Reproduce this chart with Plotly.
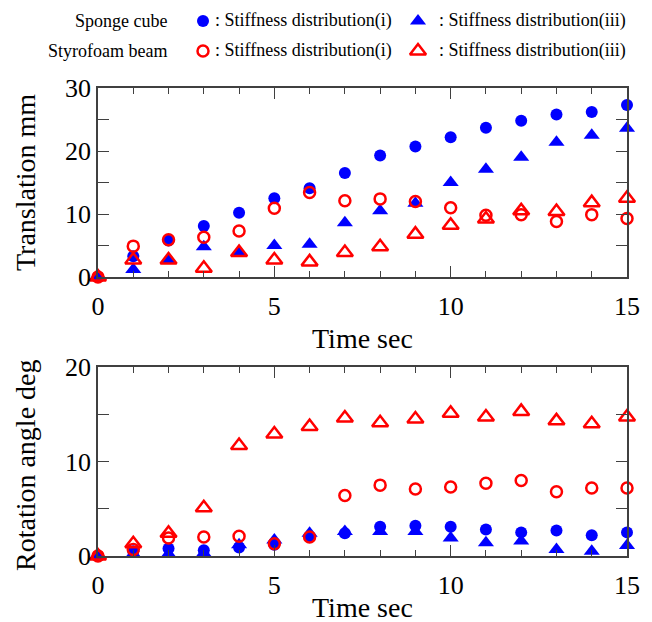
import plotly.graph_objects as go

# ---------------- data ----------------
time_s = list(range(16))

trans_sponge_i = [0, 3.3, 5.8, 8.1, 10.2, 12.5, 14.1, 16.5, 19.3, 20.7, 22.2, 23.7, 24.8, 25.8, 26.2, 27.3]
trans_sponge_iii = [0, 1.2, 2.6, 4.8, 3.9, 5.0, 5.2, 8.6, 10.5, 11.7, 15.0, 17.1, 19.0, 21.4, 22.5, 23.6]
trans_styro_i = [0, 4.9, 5.9, 6.3, 7.3, 10.9, 13.4, 12.1, 12.4, 12.0, 11.0, 9.8, 9.9, 8.8, 9.9, 9.3]
trans_styro_iii = [0, 2.7, 2.7, 1.4, 3.9, 2.7, 2.4, 3.9, 4.8, 6.8, 8.2, 9.2, 10.5, 10.4, 11.8, 12.5]

rot_sponge_i = [0, 0.5, 0.8, 0.6, 0.9, 1.2, 2.0, 2.4, 3.1, 3.2, 3.1, 2.8, 2.5, 2.7, 2.2, 2.5]
rot_sponge_iii = [0, 0.2, 0.2, 0.3, 1.2, 1.7, 2.4, 2.6, 2.6, 2.6, 1.9, 1.4, 1.6, 0.7, 0.5, 1.1]
rot_styro_i = [0, 0.7, 1.9, 2.0, 2.1, 1.3, 2.0, 6.4, 7.5, 7.1, 7.3, 7.7, 8.0, 6.8, 7.2, 7.2]
rot_styro_iii = [0, 1.3, 2.4, 5.1, 11.7, 12.9, 13.7, 14.6, 14.1, 14.5, 15.1, 14.7, 15.3, 14.3, 14.0, 14.7]

x_ticks = [0, 5, 10, 15]
top_y_ticks = [0, 10, 20, 30]
bot_y_ticks = [0, 10, 20]

legend_rows = ["Sponge cube", "Styrofoam beam"]
legend_items = [": Stiffness distribution(i)", ": Stiffness distribution(iii)"]

# ---------------- style ----------------
W, H = 652, 622
BLUE = "#0000FF"
RED = "#FF0000"
AXC = "#404040"
FONT = "Liberation Serif"

def px_x(p):
    return p / W

def px_y(p):
    return 1 - p / H

fig = go.Figure()

def add_series(x, y, xa, ya, color, symbol, filled):
    if filled:
        marker = dict(color=color, symbol=symbol, size=12 if symbol == "circle" else 14,
                      line=dict(width=0))
    else:
        marker = dict(color=color, symbol=symbol + "-open", size=11 if symbol == "circle" else 14,
                      line=dict(width=2.5, color=color))
    fig.add_trace(go.Scatter(x=x, y=y, mode="markers", marker=marker, xaxis=xa, yaxis=ya,
                             cliponaxis=False, showlegend=False, hoverinfo="skip"))

# top panel
add_series(time_s, trans_sponge_i, "x", "y", BLUE, "circle", True)
add_series(time_s, trans_sponge_iii, "x", "y", BLUE, "triangle-up", True)
add_series(time_s, trans_styro_i, "x", "y", RED, "circle", False)
add_series(time_s, trans_styro_iii, "x", "y", RED, "triangle-up", False)
# bottom panel
add_series(time_s, rot_sponge_iii, "x2", "y2", BLUE, "triangle-up", True)
add_series(time_s, rot_sponge_i, "x2", "y2", BLUE, "circle", True)
add_series(time_s, rot_styro_i, "x2", "y2", RED, "circle", False)
add_series(time_s, rot_styro_iii, "x2", "y2", RED, "triangle-up", False)

# legend glyphs on a hidden pixel-space axis
leg_marker_x = [203, 418]
leg_row_y = [21, 51]
leg_colors = [BLUE, RED]
leg_filled = [True, False]
for r in range(2):
    for c, sym in enumerate(["circle", "triangle-up"]):
        add_series([leg_marker_x[c]], [leg_row_y[r]], "x3", "y3", leg_colors[r], sym, leg_filled[r])

common_x = dict(range=[0, 15], showgrid=False, zeroline=False, showline=True, linecolor=AXC,
                linewidth=1.5, mirror="ticks", ticks="inside", ticklen=11, tickwidth=1.2,
                tickcolor=AXC, tickvals=x_ticks, ticktext=[str(v) for v in x_ticks],
                tickfont=dict(family=FONT, size=26, color="black"), ticklabelstandoff=5,
                minor=dict(dtick=1, ticks="inside", ticklen=6, tickwidth=1.2, tickcolor=AXC),
                domain=[px_x(98), px_x(627)])
common_y = dict(showgrid=False, zeroline=False, showline=True, linecolor=AXC,
                linewidth=1.5, mirror="ticks", ticks="inside", ticklen=11, tickwidth=1.2,
                tickcolor=AXC, tickfont=dict(family=FONT, size=26, color="black"),
                ticklabelstandoff=0,
                minor=dict(dtick=5, ticks="inside", ticklen=11, tickwidth=1.2, tickcolor=AXC))

fig.update_layout(
    width=W, height=H, margin=dict(l=0, r=0, t=0, b=0, autoexpand=False),
    paper_bgcolor="white", plot_bgcolor="rgba(0,0,0,0)",
    xaxis=dict(common_x, anchor="y"),
    yaxis=dict(common_y, anchor="x", range=[0, 30], tickvals=top_y_ticks,
               ticktext=[str(v) for v in top_y_ticks], domain=[px_y(277), px_y(88)]),
    xaxis2=dict(common_x, anchor="y2"),
    yaxis2=dict(common_y, anchor="x2", range=[0, 20], tickvals=bot_y_ticks,
                ticktext=[str(v) for v in bot_y_ticks], domain=[px_y(556), px_y(367)]),
    xaxis3=dict(domain=[0, 1], range=[0, W], visible=False, anchor="y3", fixedrange=True),
    yaxis3=dict(domain=[0, 1], range=[H, 0], visible=False, anchor="x3", fixedrange=True),
)

ann = []
title_font = dict(family=FONT, size=28, color="black")
ann.append(dict(text="Time sec", x=px_x(362.5), y=px_y(338), xref="paper", yref="paper",
                xanchor="center", yanchor="middle", showarrow=False, font=title_font))
ann.append(dict(text="Time sec", x=px_x(362.5), y=px_y(607), xref="paper", yref="paper",
                xanchor="center", yanchor="middle", showarrow=False, font=title_font))
ann.append(dict(text="Translation mm", x=px_x(25), y=px_y(183), xref="paper", yref="paper",
                xanchor="center", yanchor="middle", textangle=-90, showarrow=False, font=title_font))
ann.append(dict(text="Rotation angle deg", x=px_x(25), y=px_y(465), xref="paper", yref="paper",
                xanchor="center", yanchor="middle", textangle=-90, showarrow=False, font=title_font))

leg_font = dict(family=FONT, size=18, color="black")
leg_text_x = [213, 437]
for r in range(2):
    ann.append(dict(text=legend_rows[r], x=px_x(169), y=px_y(leg_row_y[r]), xref="paper",
                    yref="paper", xanchor="right", yanchor="middle", showarrow=False, font=leg_font))
    for c in range(2):
        ann.append(dict(text=legend_items[c], x=px_x(leg_text_x[c]), y=px_y(leg_row_y[r]),
                        xref="paper", yref="paper", xanchor="left", yanchor="middle",
                        showarrow=False, font=leg_font))
fig.update_layout(annotations=ann)

fig.write_html("out.html", config={"displayModeBar": False},
               post_script="document.body.style.margin='0';document.body.style.overflow='hidden';")
